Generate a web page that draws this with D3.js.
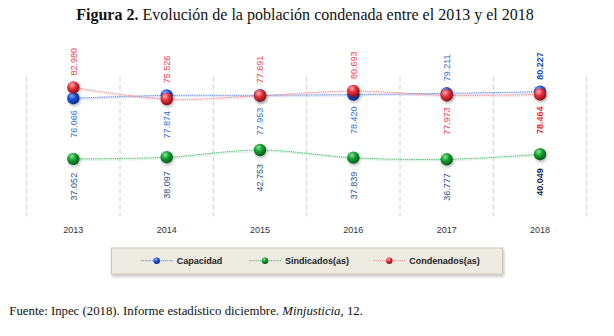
<!DOCTYPE html>
<html><head><meta charset="utf-8">
<script src="https://cdn.jsdelivr.net/npm/d3@7"></script>
<style>body{margin:0;background:#fff}svg{display:block}</style>
</head><body>
<svg id="c" width="614" height="336"></svg>
<script>
const years = ["2013","2014","2015","2016","2017","2018"];
const capacidad = [76066, 77874, 77953, 78420, 79211, 80227];
const sindicados = [37052, 38097, 42753, 37839, 36777, 40049];
const condenados = [82980, 75526, 77691, 80693, 77973, 78464];
const capacidadLabels = ["76.066","77.874","77.953","78.420","79.211","80.227"];
const sindicadosLabels = ["37.052","38.097","42.753","37.839","36.777","40.049"];
const condenadosLabels = ["82.980","75.526","77.691","80.693","77.973","78.464"];
const seriesNames = ["Capacidad","Sindicados(as)","Condenados(as)"];

const svg = d3.select("#c");
const defs = svg.append("defs");
const palettes = {
  blue: ["#8fb4ff","#1f52d6","#0a2a8a"],
  green:["#8fe39a","#12a032","#05561a"],
  red:  ["#ffb0b0","#e8323c","#8a0c14"]
};
Object.entries(palettes).forEach(([k,c])=>{
  const g = defs.append("radialGradient").attr("id","g-"+k).attr("cx","38%").attr("cy","30%").attr("r","70%");
  g.append("stop").attr("offset","0%").attr("stop-color",c[0]);
  g.append("stop").attr("offset","45%").attr("stop-color",c[1]);
  g.append("stop").attr("offset","100%").attr("stop-color",c[2]);
});
const fsh = defs.append("filter").attr("id","shadow").attr("x","-20%").attr("y","-20%").attr("width","140%").attr("height","160%");
fsh.append("feDropShadow").attr("dx",1).attr("dy",2).attr("stdDeviation",1.5).attr("flood-color","#000").attr("flood-opacity",0.25);

const x = d3.scaleBand().domain(years).range([26.7, 586.7]);
const y = d3.scaleLinear().domain([0, 90000]).range([216.5, 76.5]);
const cx = d => x(d) + x.bandwidth()/2;

// Title
const title = svg.append("text").attr("x",305).attr("y",20).attr("text-anchor","middle")
  .style("font-family","'Liberation Serif', serif").style("font-size","17px").attr("fill","#111");
title.append("tspan").style("font-weight","bold").text("Figura 2.");
title.append("tspan").text(" Evolución de la población condenada entre el 2013 y el 2018");
{ const w = title.node().getComputedTextLength(); title.style("font-size", (17*458/w)+"px"); }

// Gridlines
const bounds = years.map(d=>x(d)).concat([x.range()[1]]);
svg.append("g").selectAll("line").data(bounds).join("line")
  .attr("x1",d=>d).attr("x2",d=>d).attr("y1",y.range()[1]).attr("y2",y.range()[0])
  .attr("stroke","#cfcfcf").attr("stroke-width",1).attr("stroke-dasharray","5,3");

// Year labels
svg.append("g").selectAll("text").data(years).join("text")
  .attr("x",d=>cx(d)).attr("y",232.7).attr("text-anchor","middle")
  .style("font-family","'Liberation Sans', Arial, sans-serif").style("font-size","9px").attr("fill","#333").text(d=>d);

const line = d3.line().x((v,i)=>cx(years[i])).y(v=>y(v)).curve(d3.curveCatmullRom.alpha(0.5));
function drawLine(vals, col, shade){
  svg.append("path").attr("d",line(vals)).attr("fill","none").attr("stroke",shade).attr("stroke-width",2.2).attr("opacity",0.3).attr("transform","translate(0,1)");
  svg.append("path").attr("d",line(vals)).attr("fill","none").attr("stroke",col).attr("stroke-width",0.9).attr("opacity",0.85).attr("stroke-dasharray","1.2,1");
}
drawLine(capacidad,"#2f62dc","#9fb6ee");
drawLine(sindicados,"#16a040","#9fd8ae");
drawLine(condenados,"#e06a70","#f0b8ba");

function drawMarkers(vals, key){
  svg.append("g").selectAll("circle").data(vals).join("circle")
    .attr("cx",(v,i)=>cx(years[i])).attr("cy",v=>y(v)).attr("r",6.2)
    .attr("fill","url(#g-"+key+")").attr("filter","url(#shadow)");
}
drawMarkers(capacidad,"blue");
drawMarkers(sindicados,"green");
drawMarkers(condenados,"red");

// Data labels (rotated)
const lblFont = "'Liberation Sans', Arial, sans-serif";
function label(xp, yp, txt, above, color, bold){
  svg.append("text").attr("transform",`translate(${xp},${yp}) rotate(-90)`)
    .attr("text-anchor", above ? "start" : "end").attr("dy","0.35em")
    .style("font-family",lblFont).style("font-size","9px").style("font-weight",bold?"bold":"normal")
    .attr("fill",color).text(txt);
}
const gap = 12;
years.forEach((yr,i)=>{
  const yc = y(capacidad[i]), yd = y(condenados[i]);
  const top = Math.min(yc,yd), bot = Math.max(yc,yd);
  const last = i === years.length-1;
  const capAbove = i >= 4;
  label(cx(yr), capAbove ? bot+gap : top-gap, condenadosLabels[i], !capAbove, last ? "#ff1a24" : "#f2404c", last);
  label(cx(yr), capAbove ? top-gap : bot+gap, capacidadLabels[i], capAbove, last ? "#1a4cb4" : "#2f6fd8", last);
  label(cx(yr), y(sindicados[i])+14, sindicadosLabels[i], false, last ? "#15264f" : "#2d4f86", last);
});

// Legend
const lg = svg.append("g");
lg.append("rect").attr("x",111.5).attr("y",248).attr("width",391).attr("height",26)
  .attr("fill","#eeebe2").attr("stroke","#cbc7ba").attr("filter","url(#shadow)");
const legendItems = [
  {name:seriesNames[0], col:"#2f62dc", key:"blue", x0:140.7},
  {name:seriesNames[1], col:"#16a040", key:"green", x0:249},
  {name:seriesNames[2], col:"#e06a70", key:"red", x0:373.3}
];
legendItems.forEach(it=>{
  lg.append("line").attr("x1",it.x0).attr("x2",it.x0+32).attr("y1",260.7).attr("y2",260.7)
    .attr("stroke",it.col).attr("stroke-width",0.9).attr("opacity",0.85).attr("stroke-dasharray","1.2,1");
  lg.append("circle").attr("cx",it.x0+16).attr("cy",260.7).attr("r",3.2).attr("fill","url(#g-"+it.key+")");
  lg.append("text").attr("x",it.x0+36).attr("y",263.8)
    .style("font-family",lblFont).style("font-size","9px").style("font-weight","bold").attr("fill","#222").text(it.name);
});

// Footer
const foot = svg.append("text").attr("x",9.3).attr("y",315)
  .style("font-family","'Liberation Serif', serif").style("font-size","13px").attr("fill","#111");
foot.append("tspan").text("Fuente: Inpec (2018). Informe estadístico diciembre. ");
foot.append("tspan").style("font-style","italic").text("Minjusticia");
foot.append("tspan").text(", 12.");
{ const w = foot.node().getComputedTextLength(); foot.style("font-size",(13*354/w)+"px"); }
</script>
</body></html>
